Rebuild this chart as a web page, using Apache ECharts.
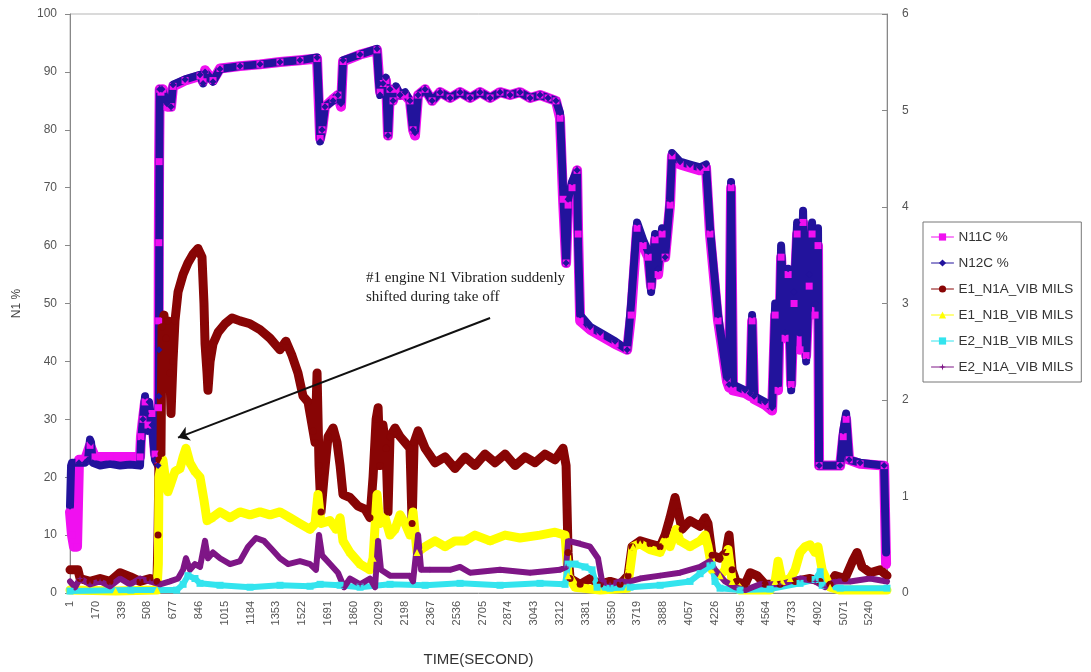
<!DOCTYPE html>
<html>
<head>
<meta charset="utf-8">
<script src="https://cdn.jsdelivr.net/npm/echarts@6/dist/echarts.min.js"></script>
<style>
  html, body { margin: 0; padding: 0; background: #fff; }
  #chart { width: 1091px; height: 672px; }
</style>
</head>
<body>
<div id="chart"></div>
<script>
// time axis: one category per second
const lastSecond = 5355;
const seconds = [];
for (let i = 1; i <= lastSecond; i++) seconds.push(String(i));

// N1 speeds, % (left axis)  [second, value]
const n11c = [
  [1, 14], [14, 10], [27, 8], [47, 8], [53, 15], [60, 23], [99, 23], [132, 25.5], [165, 23.5], [263, 23.5],
  [394, 23.5], [460, 23.5], [466, 27], [479, 30], [493, 33], [512, 29], [538, 31], [558, 24], [578, 23],
  [581, 32], [582, 47], [583, 60.5], [585, 74.5], [589, 87], [597, 86.5], [610, 87], [637, 84], [663, 84],
  [676, 87.5], [755, 88.5], [853, 89.3], [873, 88.3], [886, 90.3], [938, 88.5], [984, 90.6], [1115, 91],
  [1246, 91.3], [1377, 91.7], [1508, 92], [1620, 92.3], [1640, 78.5], [1653, 80], [1672, 84], [1725, 85.3],
  [1757, 86], [1777, 84], [1790, 91.8], [1902, 93], [2013, 93.8], [2033, 86.5], [2052, 88], [2072, 88.5],
  [2085, 79], [2098, 87], [2118, 85], [2138, 87], [2164, 86], [2197, 86], [2229, 85], [2249, 80], [2262, 79],
  [2282, 86], [2328, 87], [2374, 85], [2426, 86.5], [2492, 85.5], [2557, 86.5], [2623, 85.5], [2688, 86.5],
  [2754, 85.5], [2819, 86.5], [2885, 86], [2950, 86.5], [3016, 85.5], [3081, 86], [3134, 85.5], [3186, 85],
  [3212, 82], [3232, 68], [3252, 57], [3265, 67], [3291, 70], [3324, 73], [3331, 62], [3344, 47], [3409, 45.5],
  [3475, 44.5], [3573, 43], [3652, 42], [3678, 48], [3717, 63], [3757, 60], [3790, 58], [3809, 53], [3835, 61],
  [3855, 55], [3881, 62], [3901, 58], [3933, 67], [3946, 75.5], [3999, 74], [4064, 73.5], [4130, 73],
  [4169, 73.5], [4195, 62], [4248, 47], [4307, 36.5], [4320, 35.5], [4333, 70], [4346, 35], [4425, 34.5],
  [4458, 34], [4471, 47], [4484, 33.5], [4556, 32.5], [4602, 31.5], [4622, 48], [4641, 35], [4661, 58],
  [4687, 44], [4707, 55], [4727, 36], [4746, 50], [4766, 62], [4785, 42], [4805, 64], [4825, 41], [4845, 53],
  [4864, 62], [4884, 48], [4903, 60], [4910, 22], [5048, 22], [5068, 27], [5087, 30], [5107, 23], [5179, 22.3],
  [5336, 22], [5349, 5]
];
const n12c = [
  [1, 15], [8, 22], [14, 22.5], [60, 22.5], [99, 22.5], [119, 23], [132, 26.5], [139, 26], [150, 22.5],
  [198, 22], [263, 22.3], [329, 22], [394, 22.2], [460, 22], [466, 26], [479, 30], [493, 34], [499, 31],
  [512, 28], [519, 33], [538, 29], [558, 23], [578, 22], [583, 34], [584, 42], [585, 52], [586, 65], [587, 78],
  [589, 87], [604, 87], [637, 84.5], [663, 84], [676, 87.8], [755, 88.7], [853, 89.5], [873, 88], [886, 90],
  [938, 88.3], [984, 90.5], [1115, 91], [1246, 91.3], [1377, 91.7], [1508, 92], [1620, 92.5], [1633, 85],
  [1640, 78], [1653, 80], [1672, 84], [1725, 85], [1757, 86], [1777, 84.5], [1790, 92], [1902, 93], [2013, 94],
  [2026, 88], [2033, 86], [2052, 88], [2072, 89], [2085, 79], [2098, 87], [2118, 85], [2138, 87.5], [2164, 86],
  [2197, 86.5], [2229, 85], [2249, 80], [2262, 79.5], [2282, 86], [2328, 87], [2374, 85], [2426, 86.5],
  [2492, 85.5], [2557, 86.5], [2623, 85.5], [2688, 86.5], [2754, 85.5], [2819, 86.5], [2885, 86], [2950, 86.5],
  [3016, 85.5], [3081, 86], [3134, 85.5], [3186, 85], [3212, 83], [3232, 70], [3252, 57], [3265, 68],
  [3291, 71], [3324, 73], [3331, 60], [3344, 48], [3409, 46], [3475, 45], [3573, 43.5], [3652, 42], [3678, 50],
  [3717, 64], [3757, 61], [3790, 59], [3809, 52], [3835, 62], [3855, 56], [3881, 63], [3901, 58], [3933, 68],
  [3946, 76], [3999, 74.5], [4064, 74], [4130, 73.5], [4169, 74], [4195, 63], [4248, 48], [4307, 37],
  [4320, 36], [4333, 71], [4346, 36], [4425, 35], [4458, 34.5], [4471, 48], [4484, 34], [4556, 33], [4602, 32],
  [4622, 50], [4641, 36], [4661, 60], [4687, 45], [4707, 56], [4727, 35], [4746, 52], [4766, 64], [4785, 45],
  [4805, 66], [4825, 40], [4845, 55], [4864, 64], [4884, 50], [4903, 63], [4910, 22], [5048, 22], [5068, 28],
  [5087, 31], [5107, 23], [5179, 22.5], [5336, 22], [5349, 7]
];

// vibration, mils (right axis)  [second, value]
const e1N1a = [
  [1, 0.24], [53, 0.24], [67, 0.15], [132, 0.12], [198, 0.15], [263, 0.12], [329, 0.21], [394, 0.17],
  [460, 0.12], [525, 0.15], [571, 0.12], [578, 0.6], [584, 1.38], [597, 1.44], [604, 2.76], [617, 2.88],
  [630, 2.64], [643, 2.82], [656, 2.28], [663, 1.86], [676, 2.4], [689, 2.82], [709, 3.12], [742, 3.3],
  [774, 3.42], [807, 3.51], [840, 3.57], [866, 3.48], [879, 3.0], [886, 2.58], [899, 2.28], [905, 2.1],
  [919, 2.4], [938, 2.58], [971, 2.7], [1017, 2.79], [1063, 2.85], [1115, 2.82], [1181, 2.79], [1246, 2.73],
  [1312, 2.64], [1377, 2.52], [1416, 2.61], [1456, 2.46], [1495, 2.28], [1528, 2.04], [1561, 1.98],
  [1594, 1.68], [1607, 1.56], [1620, 2.28], [1633, 1.32], [1646, 0.84], [1666, 1.2], [1692, 1.62],
  [1725, 1.71], [1751, 1.56], [1771, 1.32], [1790, 1.02], [1836, 0.99], [1889, 0.9], [1934, 0.87],
  [1967, 0.78], [1987, 1.2], [2007, 1.8], [2020, 1.92], [2033, 1.32], [2052, 1.74], [2072, 1.5], [2085, 0.84],
  [2098, 1.62], [2131, 1.71], [2164, 1.62], [2197, 1.56], [2229, 1.5], [2243, 0.72], [2256, 1.56],
  [2282, 1.68], [2328, 1.5], [2393, 1.35], [2459, 1.41], [2524, 1.29], [2590, 1.41], [2655, 1.32],
  [2721, 1.44], [2787, 1.35], [2852, 1.44], [2918, 1.32], [2983, 1.41], [3049, 1.35], [3114, 1.44],
  [3180, 1.38], [3232, 1.5], [3252, 1.32], [3258, 0.9], [3265, 0.42], [3278, 0.15], [3344, 0.09], [3409, 0.15],
  [3475, 0.09], [3540, 0.12], [3606, 0.09], [3658, 0.18], [3684, 0.48], [3737, 0.54], [3802, 0.51],
  [3868, 0.48], [3901, 0.6], [3933, 0.78], [3966, 0.99], [3986, 0.84], [4012, 0.66], [4064, 0.75],
  [4130, 0.69], [4163, 0.78], [4182, 0.72], [4209, 0.39], [4261, 0.36], [4300, 0.42], [4320, 0.6],
  [4340, 0.24], [4366, 0.12], [4425, 0.09], [4458, 0.21], [4504, 0.18], [4556, 0.09], [4654, 0.09],
  [4753, 0.12], [4851, 0.15], [4917, 0.12], [4982, 0.09], [5015, 0.18], [5080, 0.15], [5129, 0.33],
  [5159, 0.42], [5192, 0.27], [5244, 0.21], [5310, 0.24], [5355, 0.18]
];
const e1N1b = [
  [1, 0.03], [300, 0.02], [571, 0.03], [580, 0.3], [584, 1.2], [591, 1.26], [610, 1.38], [630, 1.14],
  [643, 1.05], [663, 1.14], [689, 1.26], [722, 1.29], [742, 1.41], [761, 1.5], [787, 1.35], [820, 1.26],
  [853, 1.2], [879, 0.96], [899, 0.75], [932, 0.78], [984, 0.84], [1050, 0.78], [1115, 0.84], [1181, 0.81],
  [1246, 0.84], [1312, 0.81], [1377, 0.84], [1443, 0.78], [1508, 0.72], [1574, 0.66], [1607, 0.72],
  [1626, 1.02], [1646, 0.72], [1705, 0.75], [1744, 0.66], [1771, 0.78], [1790, 0.54], [1836, 0.42],
  [1902, 0.3], [1967, 0.24], [1987, 0.36], [2013, 1.02], [2033, 0.72], [2066, 0.78], [2098, 0.6],
  [2131, 0.66], [2164, 0.81], [2197, 0.72], [2229, 0.6], [2249, 0.84], [2275, 0.42], [2328, 0.48],
  [2393, 0.54], [2459, 0.48], [2524, 0.54], [2590, 0.54], [2655, 0.6], [2754, 0.54], [2852, 0.6],
  [2950, 0.57], [3081, 0.6], [3180, 0.63], [3245, 0.6], [3265, 0.18], [3311, 0.06], [3475, 0.03],
  [3652, 0.05], [3671, 0.24], [3691, 0.48], [3737, 0.51], [3802, 0.45], [3868, 0.42], [3901, 0.54],
  [3933, 0.48], [3973, 0.66], [3999, 0.54], [4064, 0.48], [4130, 0.54], [4163, 0.6], [4182, 0.48],
  [4209, 0.24], [4261, 0.18], [4294, 0.24], [4313, 0.45], [4340, 0.12], [4392, 0.03], [4589, 0.03],
  [4622, 0.12], [4641, 0.33], [4668, 0.12], [4720, 0.15], [4753, 0.24], [4785, 0.42], [4818, 0.48],
  [4851, 0.5], [4884, 0.42], [4903, 0.48], [4930, 0.24], [4982, 0.06], [5048, 0.03], [5355, 0.03]
];
const e2N1b = [
  [1, 0.02], [400, 0.03], [700, 0.03], [742, 0.09], [774, 0.18], [820, 0.15], [853, 0.1], [984, 0.08],
  [1181, 0.06], [1377, 0.08], [1574, 0.07], [1640, 0.09], [1771, 0.08], [1902, 0.06], [2098, 0.09],
  [2328, 0.08], [2557, 0.1], [2819, 0.08], [3081, 0.1], [3245, 0.09], [3265, 0.3], [3311, 0.3], [3376, 0.27],
  [3422, 0.24], [3455, 0.06], [3540, 0.05], [3671, 0.06], [3868, 0.08], [4064, 0.12], [4130, 0.2],
  [4195, 0.28], [4209, 0.29], [4228, 0.12], [4261, 0.05], [4392, 0.03], [4589, 0.04], [4785, 0.1],
  [4884, 0.14], [4917, 0.22], [4930, 0.08], [5048, 0.05], [5355, 0.05]
];
const e2N1a = [
  [1, 0.12], [34, 0.06], [67, 0.15], [132, 0.09], [198, 0.12], [263, 0.07], [329, 0.15], [394, 0.09],
  [460, 0.15], [525, 0.12], [591, 0.09], [656, 0.12], [709, 0.15], [742, 0.24], [761, 0.36], [787, 0.24],
  [820, 0.3], [853, 0.27], [886, 0.54], [905, 0.36], [938, 0.42], [984, 0.36], [1050, 0.3], [1115, 0.33],
  [1168, 0.48], [1220, 0.57], [1272, 0.54], [1325, 0.45], [1377, 0.36], [1430, 0.3], [1508, 0.33],
  [1574, 0.3], [1613, 0.24], [1633, 0.6], [1653, 0.39], [1705, 0.3], [1757, 0.21], [1797, 0.06],
  [1836, 0.15], [1902, 0.09], [1967, 0.15], [2000, 0.06], [2020, 0.54], [2039, 0.24], [2098, 0.18],
  [2229, 0.18], [2249, 0.12], [2282, 0.6], [2302, 0.24], [2360, 0.24], [2492, 0.24], [2557, 0.27],
  [2623, 0.21], [2819, 0.24], [3016, 0.21], [3212, 0.24], [3252, 0.27], [3265, 0.54], [3344, 0.51],
  [3409, 0.48], [3461, 0.36], [3488, 0.12], [3540, 0.09], [3606, 0.12], [3671, 0.12], [3737, 0.15],
  [3868, 0.18], [3999, 0.21], [4130, 0.27], [4195, 0.33], [4228, 0.24], [4294, 0.12], [4359, 0.06],
  [4425, 0.03], [4523, 0.09], [4654, 0.09], [4785, 0.15], [4884, 0.12], [4949, 0.06], [5015, 0.12],
  [5113, 0.12], [5244, 0.15], [5355, 0.12]
];

const font = 'Liberation Sans';

function lineSeries(name, points, color, symbol, width, axis) {
  return {
    name: name,
    type: 'line',
    yAxisIndex: axis,
    data: points.map(p => [String(p[0]), p[1]]),
    symbol: symbol,
    symbolSize: 7,
    showAllSymbol: true,
    lineStyle: { color: color, width: width, cap: 'round', join: 'round' },
    itemStyle: { color: color },
    emphasis: { disabled: true },
    animation: false
  };
}

const series = [
  lineSeries('N11C %', n11c, '#f010f0', 'rect', 10, 0),
  lineSeries('N12C %', n12c, '#22139c', 'diamond', 8, 0),
  lineSeries('E1_N1A_VIB MILS', e1N1a, '#880505', 'circle', 9, 1),
  lineSeries('E1_N1B_VIB MILS', e1N1b, '#ffff00', 'triangle', 9, 1),
  lineSeries('E2_N1B_VIB MILS', e2N1b, '#33e4ee', 'rect', 6, 1),
  lineSeries('E2_N1A_VIB MILS', e2N1a, '#7e1686', 'path://M5,0L6,4L10,5L6,6L5,10L4,6L0,5L4,4Z', 6, 1)
];

// annotation arrow (right-axis units, drawn above the vibration traces)
series[5].markLine = {
  silent: true,
  animation: false,
  symbol: ['none', 'arrow'],
  symbolSize: 11,
  label: { show: false },
  lineStyle: { color: '#111', width: 2, type: 'solid' },
  data: [[{ coord: ['2754', 2.85] }, { coord: ['709', 1.61] }]]
};

const chart = echarts.init(document.getElementById('chart'));
chart.setOption({
  backgroundColor: '#fff',
  animation: false,
  grid: { left: 70, right: 204, top: 14, bottom: 79, show: true, borderColor: '#b5b5b5', borderWidth: 1 },
  legend: {
    orient: 'vertical',
    left: 923,
    top: 222,
    padding: [8, 8, 8, 8],
    itemWidth: 22,
    itemHeight: 9,
    itemGap: 12,
    backgroundColor: '#fff',
    borderColor: '#777',
    borderWidth: 1,
    lineStyle: { width: 1 },
    textStyle: { fontFamily: font, fontSize: 13.5, color: '#333' },
    data: series.map(s => s.name)
  },
  xAxis: {
    type: 'category',
    data: seconds,
    boundaryGap: false,
    name: 'TIME(SECOND)',
    nameLocation: 'middle',
    nameGap: 59,
    nameTextStyle: { fontFamily: font, fontSize: 15, color: '#333' },
    axisLine: { lineStyle: { color: '#888' } },
    axisTick: { show: false },
    axisLabel: { interval: 168, rotate: 90, margin: 8, fontFamily: font, fontSize: 11, color: '#555' },
    splitLine: { show: false }
  },
  yAxis: [
    {
      type: 'value',
      min: 0, max: 100, interval: 10,
      name: 'N1 %',
      nameLocation: 'middle',
      nameGap: 47,
      nameTextStyle: { fontFamily: font, fontSize: 12, color: '#444' },
      axisLine: { show: true, lineStyle: { color: '#888' } },
      axisTick: { show: true, length: 5, lineStyle: { color: '#888' } },
      axisLabel: { margin: 13, fontFamily: font, fontSize: 12, color: '#555' },
      splitLine: { show: false }
    },
    {
      type: 'value',
      min: 0, max: 6, interval: 1,
      position: 'right',
      axisLine: { show: true, lineStyle: { color: '#888' } },
      axisTick: { show: true, inside: true, length: 5, lineStyle: { color: '#888' } },
      axisLabel: { margin: 15, fontFamily: font, fontSize: 12, color: '#555' },
      splitLine: { show: false }
    }
  ],
  graphic: [{
    type: 'text',
    left: 366,
    top: 269,
    silent: true,
    style: {
      text: '#1 engine N1 Vibration suddenly\nshifted during take off',
      font: '15px "Liberation Serif"',
      fill: '#222',
      lineHeight: 19
    }
  }],
  series: series
});
</script>
</body>
</html>
